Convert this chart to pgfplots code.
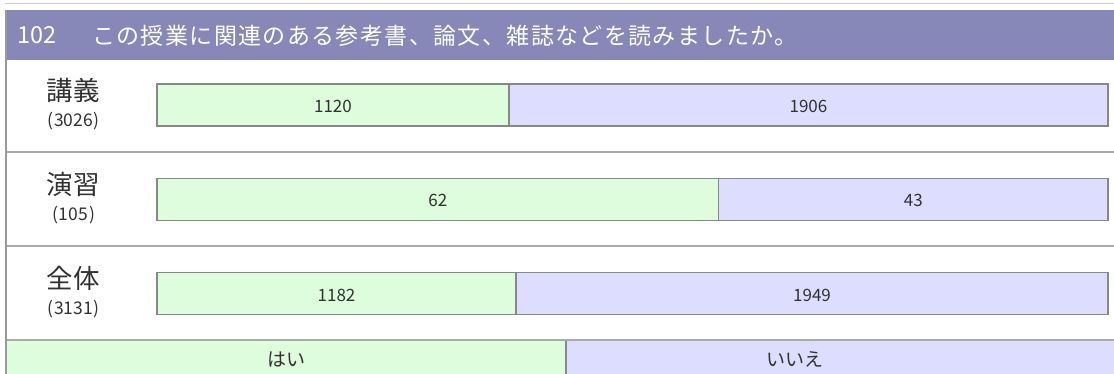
\documentclass[border=0pt]{standalone}
\usepackage{pgfplots}
\pgfplotsset{compat=1.18}
\usepackage{pgfplotstable}
\usepackage{fontspec}
\setmainfont{Noto Sans CJK JP}
\newfontfamily\titlefont[LetterSpace=6]{Noto Sans CJK JP}
\definecolor{titlebar}{RGB}{136,136,184}
\definecolor{yesfill}{RGB}{221,253,221}
\definecolor{nofill}{RGB}{221,221,255}
\definecolor{barline}{RGB}{136,136,136}
\definecolor{sepline}{RGB}{170,170,170}
\definecolor{txt}{RGB}{50,50,50}

\pgfplotstableread{
cat yes no
0 1120 1906
1 62 43
2 1182 1949
}\data

\begin{document}
\begin{tikzpicture}
\begin{scope}[x=1bp,y=-1bp,shift={(0bp,374bp)}]
 \draw[line width=1bp, black!20] (5,3.5) -- (1114,3.5);
 \fill[titlebar] (5,10) rectangle (1114,60);
 \node[anchor=west, text=white, font=\fontsize{23.5bp}{26bp}\selectfont, inner sep=0pt] at (17,35.5) {102};
 \node[anchor=west, text=white, font=\titlefont\fontsize{23bp}{26bp}\selectfont, inner sep=0pt] at (92,35.5) {この授業に関連のある参考書、論文、雑誌などを読みましたか。};
 \foreach \yy in {152.5,246,340} \draw[sepline, line width=2bp] (5,\yy) -- (1114,\yy);
 \fill[yesfill] (7,341) rectangle (566,374);
 \fill[nofill] (566,341) rectangle (1114,374);
 \draw[barline, line width=1.2bp] (566,341) -- (566,374);
 \node[text=txt, font=\fontsize{19bp}{22bp}\selectfont, inner sep=0pt] at (286,359.5) {はい};
 \node[text=txt, font=\fontsize{19bp}{22bp}\selectfont, inner sep=0pt] at (795,359.5) {いいえ};
 \draw[black!40, line width=2bp] (6,10) -- (6,374);
 \foreach \lab/\n/\yy in {講義/3026/90.5, 演習/105/184, 全体/3131/278.5} {
   \node[text=txt, font=\fontsize{26.5bp}{30bp}\selectfont, inner sep=0pt] at (73,\yy) {\lab};
   \node[text=txt, font=\fontsize{17.5bp}{20bp}\selectfont, inner sep=0pt] at (73.5,\yy+31) {(\kern1bp\n\kern1bp)};
 }
\end{scope}
\begin{axis}[at={(0,0)}, anchor=south west, width=1114bp, height=374bp, scale only axis, hide axis,
  xmin=-16.5089, xmax=100.6309, y dir=reverse, ymin=-1.11406, ymax=2.85411, clip=false]
\addplot[xbar, bar width=42bp, bar shift=0pt, fill=nofill, draw=barline, line width=1.2bp]
  table[y=cat, x expr={100*(\thisrow{yes}+\thisrow{no})/(\thisrow{yes}+\thisrow{no})}] {\data};
\addplot[xbar, bar width=42bp, bar shift=0pt, fill=yesfill, draw=barline, line width=1.2bp]
  table[y=cat, x expr={100*\thisrow{yes}/(\thisrow{yes}+\thisrow{no})}] {\data};
\addplot[draw=none, mark=none, nodes near coords, point meta=explicit symbolic,
  every node near coord/.append style={anchor=center, text=txt, font=\fontsize{17bp}{19bp}\selectfont, inner sep=0pt, yshift=-1.5bp}]
  table[y=cat, x expr={50*\thisrow{yes}/(\thisrow{yes}+\thisrow{no})}, meta=yes] {\data};
\addplot[draw=none, mark=none, nodes near coords, point meta=explicit symbolic,
  every node near coord/.append style={anchor=center, text=txt, font=\fontsize{17bp}{19bp}\selectfont, inner sep=0pt, yshift=-1.5bp}]
  table[y=cat, x expr={50+50*\thisrow{yes}/(\thisrow{yes}+\thisrow{no})}, meta=no] {\data};
\end{axis}
\pgfresetboundingbox
\useasboundingbox (0,0) rectangle (1114bp,374bp);
\end{tikzpicture}
\end{document}
